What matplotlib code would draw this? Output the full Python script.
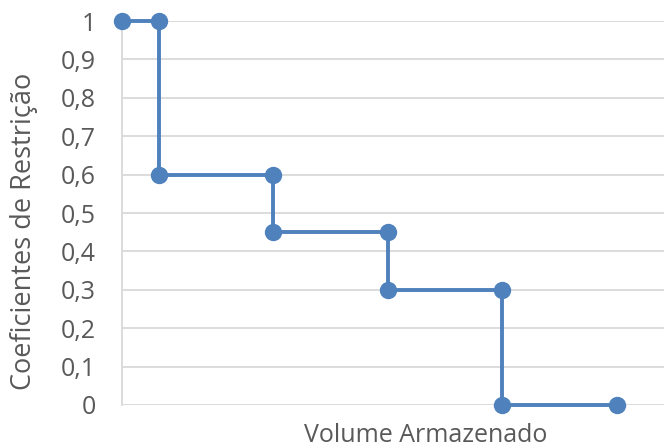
import matplotlib.pyplot as plt

# Volume armazenado (unidades arbitrárias) e coeficientes de restrição
volume = [0, 8, 8, 33, 33, 58, 58, 83, 83, 108]
coef = [1, 1, 0.6, 0.6, 0.45, 0.45, 0.3, 0.3, 0, 0]
yticks = [0, 0.1, 0.2, 0.3, 0.4, 0.5, 0.6, 0.7, 0.8, 0.9, 1]
ylabels = ['0', '0,1', '0,2', '0,3', '0,4', '0,5', '0,6', '0,7', '0,8', '0,9', '1']

plt.rcParams['font.family'] = ['Open Sans', 'DejaVu Sans']

fig = plt.figure(figsize=(6.64, 4.48), dpi=100)
ax = fig.add_axes([122 / 664, 1 - 405 / 448, 542 / 664, 384 / 448])

ax.plot(volume, coef, color='#4F81BD', lw=2.8, marker='o', markersize=11.5,
        clip_on=False, zorder=3)

ax.set_xlim(0, 118.3)
ax.set_ylim(0, 1)
ax.set_yticks(yticks)
ax.set_yticklabels(ylabels)
ax.set_xticks([])
ax.yaxis.grid(True, color='#D9D9D9', lw=1.3)
ax.set_axisbelow(True)

for s in ['top', 'right', 'bottom']:
    ax.spines[s].set_visible(False)
ax.spines['left'].set_color('#D9D9D9')
ax.spines['left'].set_linewidth(1.3)
ax.tick_params(axis='y', length=0, pad=19, labelsize=18, labelcolor='#595959')

fig.text(426 / 664, 1 - 442 / 448, 'Volume Armazenado', ha='center', va='baseline',
         fontsize=18, color='#595959')
fig.text(24 / 664, 1 - 231 / 448, 'Coeficientes de Restrição', ha='center', va='center',
         rotation=90, fontsize=19.5, color='#595959')

fig.savefig('out.png', dpi=100)
